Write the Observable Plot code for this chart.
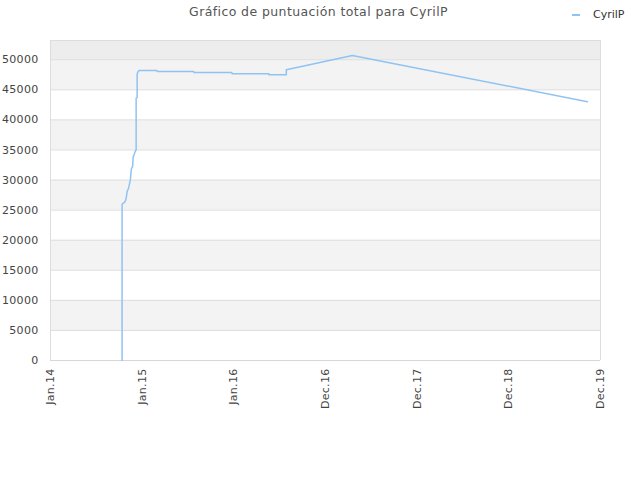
<!DOCTYPE html>
<html>
<head>
<meta charset="utf-8">
<script src="https://cdn.jsdelivr.net/npm/d3@7"></script>
<script src="https://cdn.jsdelivr.net/npm/@observablehq/plot@0.6"></script>
<style>
  html, body { margin: 0; padding: 0; background: #fff; }
  body { width: 640px; height: 480px; position: relative; overflow: hidden; font-family: "DejaVu Sans", sans-serif; }
  #title { position: absolute; top: 4px; left: 0; width: 637px; text-align: center; font-size: 12.5px; letter-spacing: 0.4px; color: #555; }
  #legend { position: absolute; top: 8px; left: 572px; font-size: 11px; color: #333; display: flex; align-items: center; }
  #legend .sw { width: 8px; height: 2px; background: #90c3f3; margin-right: 13px; }
  #chart { position: absolute; top: 0; left: 0; }
  #chart svg text { letter-spacing: 0.3px; }
</style>
</head>
<body>
<div id="title">Gráfico de puntuación total para CyrilP</div>
<div id="legend"><span class="sw"></span><span>CyrilP</span></div>
<div id="chart"></div>
<script>
const seriesName = "CyrilP";
const dates = [
  "2014-10-13","2014-10-13","2014-10-20","2014-10-26","2014-10-30","2014-11-02",
  "2014-11-07","2014-11-11","2014-11-15","2014-11-19","2014-11-24","2014-11-26",
  "2014-11-30","2014-12-04","2014-12-08","2014-12-08","2014-12-12","2014-12-12",
  "2014-12-16","2014-12-20","2015-03-01","2015-03-02","2015-07-25","2015-07-26",
  "2015-12-24","2015-12-25","2016-05-19","2016-05-20","2016-07-28","2016-07-28",
  "2017-04-17","2019-11-09"
];
const scores = [
  0, 26000, 26190, 26470, 27130, 28130,
  28520, 29240, 30020, 31840, 32280, 33770,
  34220, 34770, 35000, 43630, 43740, 47620,
  48060, 48230, 48230, 48060, 48060, 47900,
  47900, 47680, 47680, 47510, 47510, 48340,
  50720, 43020
];
const xTickDates = ["2014-01-01","2015-01-01","2016-01-01","2016-12-31","2017-12-31","2018-12-31","2019-12-31"];
const xTickLabels = ["Jan.14","Jan.15","Jan.16","Dec.16","Dec.17","Dec.18","Dec.19"];
const yTicks = [0,5000,10000,15000,20000,25000,30000,35000,40000,45000,50000];
const yMax = 53200;

const parse = d3.utcParse("%Y-%m-%d");
const data = dates.map((d, i) => ({date: parse(d), score: scores[i]}));
const xt = xTickDates.map(parse);
const labelOf = new Map(xt.map((d, i) => [+d, xTickLabels[i]]));

// alternating bands between gridlines
const bands = [];
for (let i = 0; i < yTicks.length; i++) {
  const y1 = yTicks[i], y2 = i + 1 < yTicks.length ? yTicks[i + 1] : yMax;
  const fill = i === yTicks.length - 1 ? "#ededed" : (i % 2 === 1 ? "#f3f3f3" : "#ffffff");
  bands.push({y1, y2, fill});
}

const plot = Plot.plot({
  width: 640,
  height: 480,
  marginLeft: 50,
  marginRight: 40,
  marginTop: 40,
  marginBottom: 120,
  style: {fontFamily: "DejaVu Sans, sans-serif", fontSize: "11px", color: "#444", background: "transparent"},
  x: {type: "utc", domain: [xt[0], xt[xt.length - 1]], ticks: xt, tickFormat: d => labelOf.get(+d), tickRotate: -90, tickSize: 0, tickPadding: 8, label: null},
  y: {domain: [0, yMax], ticks: yTicks, tickFormat: d => String(d), tickSize: 0, tickPadding: 12, label: null},
  marks: [
    Plot.rectY(bands, {x1: xt[0], x2: xt[xt.length - 1], y1: "y1", y2: "y2", fill: d => d.fill}),
    Plot.ruleY(yTicks.slice(1), {stroke: "#dddddd", strokeWidth: 1}),
    Plot.ruleY([0], {stroke: "#d8d8d8", strokeWidth: 1}),
    Plot.ruleY([yMax], {stroke: "#dddddd", strokeWidth: 1}),
    Plot.ruleX([xt[0], xt[xt.length - 1]], {stroke: "#dddddd", strokeWidth: 1}),
    Plot.line(data, {x: "date", y: "score", stroke: "#90c3f3", strokeWidth: 1.5, curve: "linear"})
  ]
});
document.getElementById("chart").appendChild(plot);
</script>
</body>
</html>
